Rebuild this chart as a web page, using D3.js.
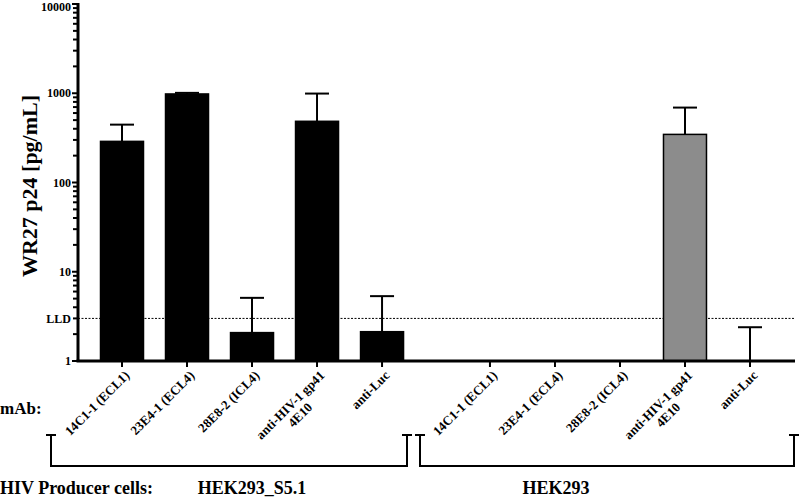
<!DOCTYPE html>
<html>
<head>
<meta charset="utf-8">
<script src="https://cdn.jsdelivr.net/npm/d3@7"></script>
<style>
  body { margin: 0; background: #fff; }
  text { font-family: "Liberation Serif", "Times New Roman", serif; font-weight: bold; }
</style>
</head>
<body>
<script>
// chart data
const mabs = ["14C1-1 (ECL1)", "23E4-1 (ECL4)", "28E8-2 (ICL4)", "anti-HIV-1 gp41|4E10", "anti-Luc"];
const groups = ["HEK293_S5.1", "HEK293"];
// mean p24 per group (null = below axis, no bar)
const means = [
  [289, 982, 2.08, 485, 2.13],
  [null, null, null, 346, 1]
];
// upper error bar values
const errTops = [
  [445, 1010, 5.1, 992, 5.33],
  [null, null, null, 691, 2.39]
];
const barColors = [["#000", "#000", "#000", "#000", "#000"], [null, null, null, "#8c8c8c", null]];
const yTicks = [1, 10, 100, 1000, 10000];
const lld = 3;

const width = 800, height = 500;
const svg = d3.select("body").append("svg")
  .attr("width", width)
  .attr("height", height);

// scales
const groupOffset = 5.66;
const x = d3.scaleLinear().domain([0, 4 + groupOffset]).range([122, 750]);
const y = d3.scaleLog().domain([1, 10000]).range([361, 4]);
const barW = 43;

// flatten into rows
let rows = [];
for (let g = 0; g < groups.length; g++) {
  for (let i = 0; i < mabs.length; i++) {
    rows.push({g: g, i: i, pos: i + g * groupOffset, mean: means[g][i], err: errTops[g][i], color: barColors[g][i]});
  }
}

// LLD dotted line
svg.append("line")
  .attr("x1", 78).attr("x2", 795)
  .attr("y1", y(lld)).attr("y2", y(lld))
  .attr("stroke", "#000")
  .attr("stroke-width", 1)
  .attr("stroke-dasharray", "2,1.5");

// error bars
const errs = svg.append("g");
rows.filter(d => d.err != null).forEach(function(d) {
  const cx = x(d.pos);
  const base = d.mean != null ? y(d.mean) : y(1);
  errs.append("line")
    .attr("x1", cx).attr("x2", cx)
    .attr("y1", base).attr("y2", y(d.err))
    .attr("stroke", "#000").attr("stroke-width", 2);
  errs.append("line")
    .attr("x1", cx - 12).attr("x2", cx + 12)
    .attr("y1", y(d.err)).attr("y2", y(d.err))
    .attr("stroke", "#000").attr("stroke-width", 2);
});

// bars
svg.append("g").selectAll("rect")
  .data(rows.filter(d => d.mean != null && d.mean > 1))
  .enter().append("rect")
    .attr("x", d => x(d.pos) - barW / 2)
    .attr("y", d => y(d.mean))
    .attr("width", barW)
    .attr("height", d => y(1) - y(d.mean))
    .attr("fill", d => d.color)
    .attr("stroke", "#000")
    .attr("stroke-width", 1.5);

// y axis
const yAxis = svg.append("g");
yAxis.append("line")
  .attr("x1", 78).attr("x2", 78)
  .attr("y1", 3).attr("y2", 362)
  .attr("stroke", "#000").attr("stroke-width", 3);

// minor ticks
for (let dec = 1; dec < 10000; dec *= 10) {
  for (let m = 2; m <= 9; m++) {
    yAxis.append("line")
      .attr("x1", 73).attr("x2", 78)
      .attr("y1", y(dec * m)).attr("y2", y(dec * m))
      .attr("stroke", "#000").attr("stroke-width", 2);
  }
}
yTicks.forEach(function(t) {
  yAxis.append("line")
    .attr("x1", 72).attr("x2", 78)
    .attr("y1", y(t)).attr("y2", y(t))
    .attr("stroke", "#000").attr("stroke-width", 2);
  yAxis.append("text")
    .attr("x", 71).attr("y", Math.max(y(t), 7))
    .attr("dy", "0.35em")
    .attr("text-anchor", "end")
    .attr("font-size", "12px")
    .text(t);
});
yAxis.append("text")
  .attr("x", 71).attr("y", y(lld))
  .attr("dy", "0.35em")
  .attr("text-anchor", "end")
  .attr("font-size", "12px")
  .text("LLD");

svg.append("text")
  .attr("transform", "translate(37," + 186 + ") rotate(-90)")
  .attr("text-anchor", "middle")
  .attr("font-size", "22px")
  .text("WR27 p24 [pg/mL]");

// x axis
svg.append("line")
  .attr("x1", 76.5).attr("x2", 795)
  .attr("y1", 361).attr("y2", 361)
  .attr("stroke", "#000").attr("stroke-width", 3);

rows.forEach(function(d) {
  const cx = x(d.pos);
  svg.append("line")
    .attr("x1", cx).attr("x2", cx)
    .attr("y1", 361).attr("y2", 367)
    .attr("stroke", "#000").attr("stroke-width", 2);

  const lines = mabs[d.i].split("|");
  const lab = svg.append("g")
    .attr("transform", "translate(" + (cx + 5) + ",373) rotate(-45)");
  const t1 = lab.append("text")
    .attr("text-anchor", "end")
    .attr("font-size", "13px")
    .attr("dy", "0.35em")
    .text(lines[0]);
  if (lines.length > 1) {
    const len = t1.node().getComputedTextLength();
    lab.append("text")
      .attr("x", -len / 2)
      .attr("y", 14)
      .attr("text-anchor", "middle")
      .attr("font-size", "13px")
      .attr("dy", "0.35em")
      .text(lines[1]);
  }
});

svg.append("text")
  .attr("x", 0).attr("y", 414)
  .attr("font-size", "17px")
  .text("mAb:");

// group brackets
const brackets = [[51, 407], [420, 794]];
brackets.forEach(function(b) {
  const path = d3.path();
  path.moveTo(b[0], 435);
  path.lineTo(b[0], 466);
  path.lineTo(b[1], 466);
  path.lineTo(b[1], 435);
  svg.append("path")
    .attr("d", path.toString())
    .attr("fill", "none")
    .attr("stroke", "#000").attr("stroke-width", 2);
  [b[0], b[1]].forEach(function(bx) {
    svg.append("line")
      .attr("x1", bx - 5).attr("x2", bx + 5)
      .attr("y1", 435).attr("y2", 435)
      .attr("stroke", "#000").attr("stroke-width", 2);
  });
});

svg.append("text")
  .attr("x", 0).attr("y", 494)
  .attr("font-size", "18px")
  .text("HIV Producer cells:");
const groupLabelX = [252, 556];
groups.forEach(function(gname, g) {
  svg.append("text")
    .attr("x", groupLabelX[g]).attr("y", 494)
    .attr("text-anchor", "middle")
    .attr("font-size", "18px")
    .text(gname);
});
</script>
</body>
</html>
